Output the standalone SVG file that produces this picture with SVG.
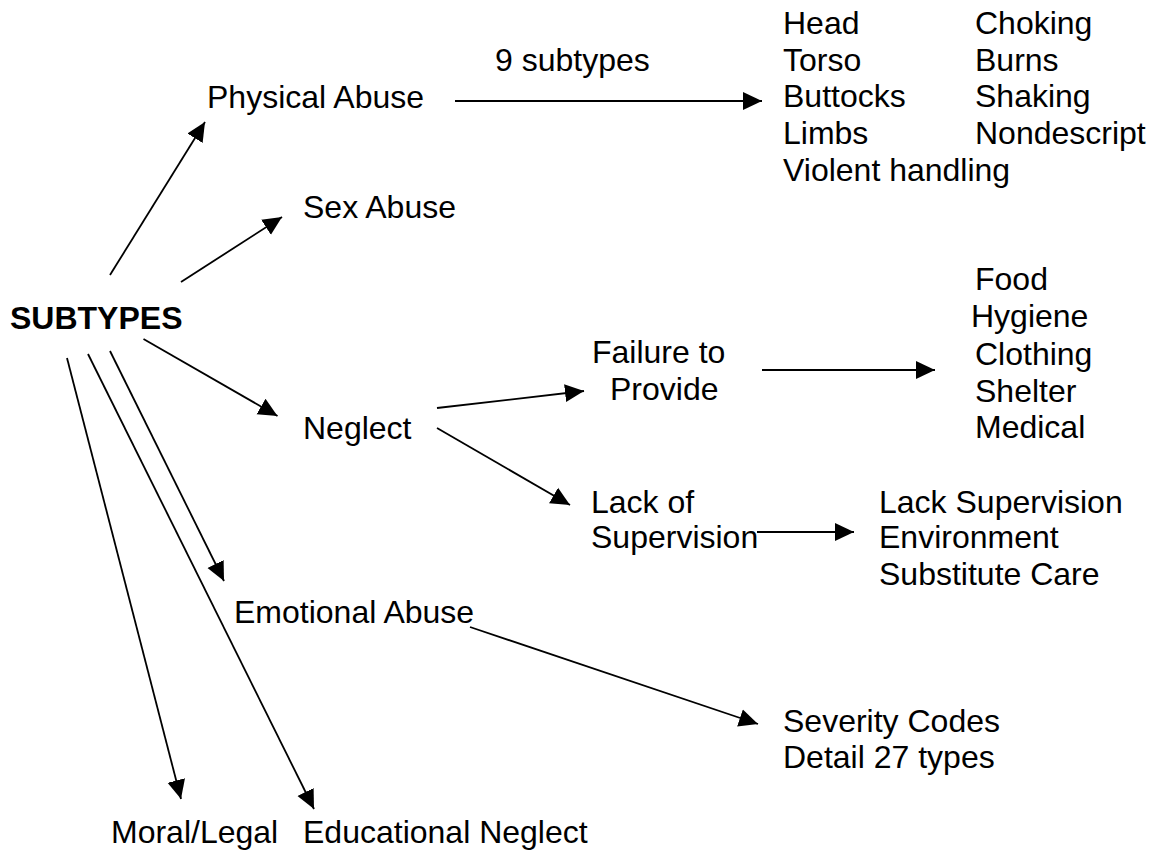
<svg xmlns="http://www.w3.org/2000/svg" width="1160" height="853" viewBox="0 0 1160 853">
<style>
text{font-family:"Liberation Sans",Arial,sans-serif;font-size:32px;fill:#000}
.b{font-weight:bold}
.c{stroke:#000;stroke-width:1.8;fill:none;marker-end:url(#ah)}
</style>
<defs>
<marker id="ah" markerUnits="userSpaceOnUse" markerWidth="20" markerHeight="20" refX="19" refY="10" orient="auto">
<path d="M0,1 L19,10 L0,19 z" fill="#000"/>
</marker>
</defs>
<rect width="1160" height="853" fill="#fff"/>
<g id="connectors">
<line class="c" x1="110" y1="275" x2="205" y2="122"/>
<line class="c" x1="181" y1="282" x2="282" y2="217"/>
<line class="c" x1="143.5" y1="339" x2="277.5" y2="416"/>
<line class="c" x1="110" y1="351" x2="224" y2="581"/>
<line class="c" x1="88" y1="354" x2="314" y2="809"/>
<line class="c" x1="67" y1="358" x2="181" y2="799"/>
<line class="c" x1="455" y1="101" x2="762" y2="101"/>
<line class="c" x1="437" y1="408" x2="584" y2="391"/>
<line class="c" x1="437" y1="428" x2="570" y2="505"/>
<line class="c" x1="762" y1="370" x2="935" y2="370"/>
<line class="c" x1="757" y1="532" x2="854" y2="532"/>
<line class="c" x1="470" y1="627" x2="758" y2="724"/>
</g>
<g id="subtypes"><text class="b" x="10" y="329">SUBTYPES</text></g>
<g id="physical"><text x="207" y="108">Physical Abuse</text></g>
<g id="label9"><text x="495" y="71">9 subtypes</text></g>
<g id="physical-list">
<text x="783" y="34">Head</text>
<text x="783" y="71">Torso</text>
<text x="783" y="107">Buttocks</text>
<text x="783" y="144">Limbs</text>
<text x="783" y="181">Violent handling</text>
<text x="975" y="34">Choking</text>
<text x="975" y="71">Burns</text>
<text x="975" y="107">Shaking</text>
<text x="975" y="144">Nondescript</text>
</g>
<g id="sex"><text x="303" y="218">Sex Abuse</text></g>
<g id="neglect"><text x="303" y="439">Neglect</text></g>
<g id="failure"><text x="592" y="363">Failure to</text><text x="610" y="400">Provide</text></g>
<g id="failure-list">
<text x="975" y="290">Food</text>
<text x="971" y="327">Hygiene</text>
<text x="975" y="365">Clothing</text>
<text x="975" y="402">Shelter</text>
<text x="975" y="438">Medical</text>
</g>
<g id="lack"><text x="591" y="513">Lack of</text><text x="591" y="548">Supervision</text></g>
<g id="lack-list">
<text x="879" y="513">Lack Supervision</text>
<text x="879" y="548">Environment</text>
<text x="879" y="585">Substitute Care</text>
</g>
<g id="emotional"><text x="234" y="623">Emotional Abuse</text></g>
<g id="severity"><text x="783" y="732">Severity Codes</text><text x="783" y="768">Detail 27 types</text></g>
<g id="moral"><text x="111" y="843">Moral/Legal</text></g>
<g id="educational"><text x="303" y="843">Educational Neglect</text></g>
</svg>
